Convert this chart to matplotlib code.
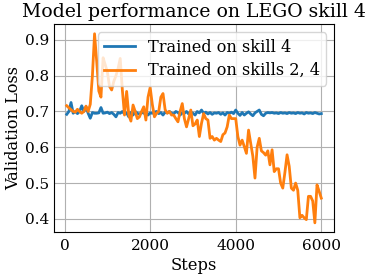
import numpy as np
import matplotlib
matplotlib.use("Agg")
import matplotlib.pyplot as plt

plt.rcParams['font.family'] = ['DejaVu Serif']

steps = np.arange(50, 6001, 50)

loss_skill4 = [
    0.692, 0.700, 0.725, 0.695, 0.700, 0.694, 0.700, 0.716, 0.700, 0.713,
    0.695, 0.681, 0.697, 0.695, 0.695, 0.696, 0.711, 0.695, 0.696, 0.698,
    0.694, 0.697, 0.692, 0.685, 0.697, 0.695, 0.700, 0.693, 0.696, 0.685,
    0.697, 0.690, 0.700, 0.695, 0.692, 0.698, 0.695, 0.700, 0.690, 0.696,
    0.695, 0.698, 0.700, 0.694, 0.697, 0.690, 0.698, 0.696, 0.700, 0.695,
    0.693, 0.700, 0.697, 0.690, 0.696, 0.695, 0.700, 0.693, 0.698, 0.695,
    0.690, 0.700, 0.696, 0.704, 0.695, 0.698, 0.693, 0.697, 0.692, 0.696,
    0.695, 0.697, 0.692, 0.696, 0.690, 0.697, 0.695, 0.698, 0.694, 0.704,
    0.695, 0.689, 0.697, 0.690, 0.695, 0.699, 0.693, 0.688, 0.696, 0.700,
    0.704, 0.692, 0.688, 0.695, 0.697, 0.696, 0.697, 0.695, 0.696, 0.694,
    0.697, 0.695, 0.696, 0.694, 0.697, 0.695, 0.696, 0.694, 0.697, 0.695,
    0.696, 0.693, 0.697, 0.695, 0.696, 0.694, 0.697, 0.695, 0.693, 0.694,
]

loss_skills24 = [
    0.716, 0.710, 0.705, 0.700, 0.698, 0.706, 0.700, 0.695, 0.700, 0.715,
    0.700, 0.720, 0.800, 0.917, 0.840, 0.757, 0.740, 0.850, 0.830, 0.810,
    0.770, 0.760, 0.784, 0.800, 0.820, 0.848, 0.760, 0.690, 0.756, 0.690,
    0.673, 0.718, 0.700, 0.680, 0.685, 0.700, 0.713, 0.676, 0.740, 0.767,
    0.720, 0.685, 0.695, 0.700, 0.740, 0.750, 0.705, 0.695, 0.700, 0.690,
    0.690, 0.680, 0.671, 0.700, 0.722, 0.680, 0.657, 0.680, 0.704, 0.660,
    0.665, 0.676, 0.630, 0.667, 0.694, 0.680, 0.676, 0.625, 0.630, 0.620,
    0.625, 0.620, 0.616, 0.635, 0.640, 0.657, 0.690, 0.680, 0.680, 0.680,
    0.630, 0.606, 0.620, 0.602, 0.583, 0.648, 0.611, 0.575, 0.514, 0.600,
    0.625, 0.590, 0.585, 0.578, 0.590, 0.551, 0.593, 0.532, 0.540, 0.540,
    0.500, 0.486, 0.530, 0.579, 0.547, 0.486, 0.480, 0.500, 0.480, 0.403,
    0.410, 0.403, 0.398, 0.463, 0.463, 0.450, 0.389, 0.495, 0.477, 0.458,
]

label_a = "Trained on skill 4"
label_b = "Trained on skills 2, 4"

fig = plt.figure(figsize=(3.71, 2.77), dpi=100)
ax = fig.add_axes([0.1456, 0.1614, 0.7547, 0.7509])
ax.plot(steps, loss_skill4, color="#1f77b4", lw=2, label=label_a)
ax.plot(steps, loss_skills24, color="#ff7f0e", lw=2, label=label_b)
ax.grid(True)
ax.set_title("Model performance on LEGO skill 4", fontsize=13.6, pad=5)
ax.set_xlabel("Steps", fontsize=11.8, labelpad=3)
ax.set_ylabel("Validation Loss", fontsize=11.6, labelpad=2)
ax.tick_params(labelsize=11, length=0)
ax.tick_params(axis="x", pad=5)
ax.set_xticks([0, 2000, 4000, 6000])
ax.legend(loc="upper right", fontsize=11.6, handlelength=1.9,
          borderaxespad=0.5, labelspacing=0.4)
fig.savefig("out.png", dpi=100)
